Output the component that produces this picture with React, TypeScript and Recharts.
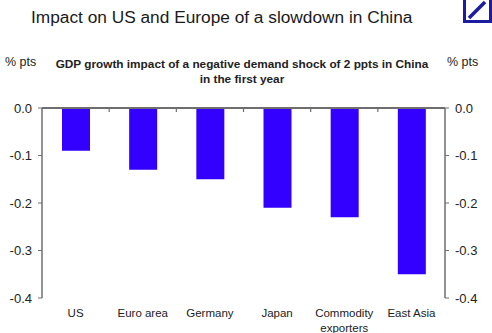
import React from 'react'
import { Bar, ComposedChart, Line, XAxis, YAxis } from 'recharts'

const categories = ['US', 'Euro area', 'Germany', 'Japan', 'Commodity\nexporters', 'East Asia']
const impact = [-0.09, -0.13, -0.15, -0.21, -0.23, -0.35]
const yTicks = [0, -0.1, -0.2, -0.3, -0.4]
const boundaryTicks = [1, 2, 3, 4, 5]

// pos = slot centre on a 0..6 scale, used only by the top axis with the boundary ticks
const data = categories.map((name, i) => ({ name, impact: impact[i], pos: i + 0.5 }))

const axisGrey = '#6e6e6e'
const barBlue = '#3300ff'
const textColor = '#222'
const font = 'Liberation Sans, Arial, sans-serif'

function CategoryTick({ x, y, payload }: any) {
  const lines = String(payload.value).split('\n')
  return (
    <text x={x} y={y} textAnchor="middle" fontSize={11.5} fill={textColor} fontFamily={font}>
      {lines.map((line, i) => (
        <tspan key={i} x={x} dy={i === 0 ? 11 : 15}>
          {line}
        </tspan>
      ))}
    </text>
  )
}

// small downward tick at each slot boundary, hanging from the 0.0 line
function BoundaryTick({ x, y }: any) {
  return <line x1={x} x2={x} y1={y} y2={y + 4} stroke={axisGrey} strokeWidth={1.2} />
}

export default function App() {
  return (
    <div
      style={{
        position: 'absolute',
        left: 0,
        top: 0,
        width: 492,
        height: 333,
        background: '#fff',
        overflow: 'hidden',
        fontFamily: font,
        color: textColor,
      }}
    >
      <div style={{ position: 'absolute', left: 31, top: 7, fontSize: 17.3, whiteSpace: 'nowrap', color: '#1a1a1a' }}>
        Impact on US and Europe of a slowdown in China
      </div>
      <svg style={{ position: 'absolute', left: 460, top: 0 }} width={32} height={26}>
        <rect x={4.5} y={-4} width={26} height={25.5} fill="none" stroke="#1c1ca0" strokeWidth={3} />
        <line x1={9} y1={18} x2={25} y2={2} stroke="#1c1ca0" strokeWidth={3.5} />
      </svg>
      <div style={{ position: 'absolute', left: 5, top: 55, fontSize: 12.5 }}>% pts</div>
      <div style={{ position: 'absolute', left: 447, top: 55, fontSize: 12.5 }}>% pts</div>
      <div
        style={{
          position: 'absolute',
          left: 40,
          width: 404,
          top: 57,
          fontSize: 11.8,
          fontWeight: 700,
          textAlign: 'center',
          lineHeight: '15px',
          whiteSpace: 'nowrap',
        }}
      >
        GDP growth impact of a negative demand shock of 2 ppts in China
        <br />
        in the first year
      </div>
      <div style={{ position: 'absolute', left: 0, top: 0 }}>
        <ComposedChart
          width={492}
          height={333}
          data={data}
          margin={{ top: 88, right: 0, left: 0, bottom: 0 }}
          barCategoryGap={0}
        >
          <XAxis
            dataKey="name"
            xAxisId="cat"
            height={35}
            axisLine={false}
            tickLine={false}
            interval={0}
            tick={<CategoryTick />}
          />
          {/* top axis: the 0.0 line with the slot-boundary ticks */}
          <XAxis
            xAxisId="bounds"
            dataKey="pos"
            type="number"
            orientation="top"
            domain={[0, 6]}
            ticks={boundaryTicks}
            allowDataOverflow
            height={20}
            tickSize={0}
            tickMargin={0}
            tickLine={false}
            tick={<BoundaryTick />}
            axisLine={{ stroke: axisGrey, strokeWidth: 2 }}
          />
          <YAxis
            yAxisId="left"
            orientation="left"
            width={42}
            domain={[-0.4, 0]}
            ticks={yTicks}
            allowDataOverflow
            tickFormatter={(v: number) => v.toFixed(1)}
            tick={{ fontSize: 13, fill: textColor }}
            tickSize={4}
            tickMargin={6}
            axisLine={{ stroke: axisGrey, strokeWidth: 1.5 }}
            tickLine={{ stroke: axisGrey }}
          />
          <YAxis
            yAxisId="right"
            orientation="right"
            width={47}
            domain={[-0.4, 0]}
            ticks={yTicks}
            allowDataOverflow
            tickFormatter={(v: number) => v.toFixed(1)}
            tick={{ fontSize: 13, fill: textColor }}
            tickSize={4}
            tickMargin={6}
            axisLine={{ stroke: axisGrey, strokeWidth: 1.5 }}
            tickLine={{ stroke: axisGrey }}
          />
          <Bar dataKey="impact" xAxisId="cat" yAxisId="left" fill={barBlue} barSize={28} isAnimationActive={false} />
          <Line
            dataKey="impact"
            xAxisId="bounds"
            yAxisId="right"
            stroke="none"
            dot={false}
            activeDot={false}
            legendType="none"
            isAnimationActive={false}
          />
        </ComposedChart>
      </div>
    </div>
  )
}
